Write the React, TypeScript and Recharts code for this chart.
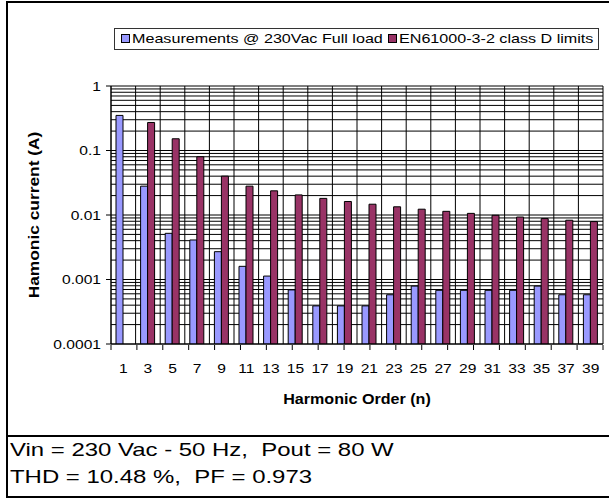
import React from "react";
import { BarChart, Bar, XAxis, YAxis, CartesianGrid, ReferenceLine, Label } from "recharts";

const FONT = "'Liberation Sans', Arial, Helvetica, sans-serif";

// harmonic orders on the x axis
const orders = ["1", "3", "5", "7", "9", "11", "13", "15", "17", "19", "21", "23", "25", "27", "29", "31", "33", "35", "37", "39"];

// measured harmonic current (A)
const measured = [0.35, 0.028, 0.0052, 0.0041, 0.0027, 0.0016, 0.00113, 0.00069, 0.00039, 0.00039, 0.00039, 0.00058, 0.00079, 0.00068, 0.00068, 0.00068, 0.00068, 0.00079, 0.00058, 0.00058];

// class D limits (A), none for the fundamental
const limits = [null, 0.272, 0.152, 0.08, 0.04, 0.028, 0.0237, 0.0205, 0.0181, 0.0162, 0.0147, 0.0134, 0.0123, 0.0114, 0.0106, 0.0099, 0.0093, 0.0088, 0.0083, 0.0079];

const seriesNames = ["Measurements @ 230Vac Full load", "EN61000-3-2 class D limits"];
const seriesColors = ["#9999FF", "#993366"];

const yTicks = [0.0001, 0.001, 0.01, 0.1, 1];
const footer = ["Vin = 230 Vac - 50 Hz,  Pout = 80 W", "THD = 10.48 %,  PF = 0.973"];

// log grid: 1..9 per decade
const gridValues = yTicks
  .slice(0, -1)
  .flatMap((d) => [1, 2, 3, 4, 5, 6, 7, 8, 9].map((m) => Number((d * m).toPrecision(2))))
  .concat([1]);
const bounds = orders.map((_, i) => i).concat([orders.length]);

const data = orders.map((n, i) => ({ n, measured: measured[i], limit: limits[i] }));

// vertical grid lines sit on category boundaries
const boundaryLines = ({ offset }: any) => bounds.map((i) => offset.left + (offset.width * i) / orders.length);

const NoTick = () => <g />;

const YTick = (props: any) => {
  const { x, y, payload } = props;
  return (
    <g transform={`translate(${x},${y}) scale(1.2,1)`}>
      <text x={0} y={0} dy={4.6} textAnchor="end" fontSize={13} fontFamily={FONT} fill="#000">
        {String(payload.value)}
      </text>
    </g>
  );
};

const XTick = (props: any) => {
  const { x, y, payload } = props;
  return (
    <g transform={`translate(${x},${y}) scale(1.2,1)`}>
      <text x={0} y={0} dy={28.6} textAnchor="middle" fontSize={13} fontFamily={FONT} fill="#000">
        {payload.value}
      </text>
    </g>
  );
};

const YTitle = (props: any) => {
  const { viewBox } = props;
  const cy = viewBox.y + viewBox.height / 2;
  return (
    <g transform={`translate(34,${cy}) rotate(-90) scale(1.24,1)`}>
      <text x={0} y={0} dy={5} textAnchor="middle" fontSize={14} fontWeight="bold" fontFamily={FONT} fill="#000">
        Hamonic current (A)
      </text>
    </g>
  );
};

const XTitle = (props: any) => {
  const { viewBox } = props;
  const cx = viewBox.x + viewBox.width / 2;
  return (
    <g transform={`translate(${cx},${viewBox.y + 60}) scale(1.15,1)`}>
      <text x={0} y={0} textAnchor="middle" fontSize={14} fontWeight="bold" fontFamily={FONT} fill="#000">
        Harmonic Order (n)
      </text>
    </g>
  );
};

const legendPos = [
  { sq: 121, txt: 132 },
  { sq: 388, txt: 399 },
];

export default function App() {
  return (
    <div style={{ position: "absolute", left: 0, top: 0, width: 609, height: 499, background: "#fff", overflow: "hidden", fontFamily: FONT }}>
      <div style={{ position: "absolute", left: 0, top: 0 }}>
        <BarChart width={609} height={436} data={data} margin={{ top: 86, right: 6, bottom: 90, left: 0 }} barGap={0}>
          <CartesianGrid stroke="#000" horizontalValues={gridValues} verticalCoordinatesGenerator={boundaryLines} />
          <XAxis dataKey="n" interval={0} height={1} tickLine={false} tickSize={0} tickMargin={0} axisLine={{ stroke: "#000" }} tick={<XTick />}>
            <Label content={<XTitle />} />
          </XAxis>
          <XAxis
            xAxisId="g"
            type="number"
            domain={[0, orders.length]}
            ticks={bounds}
            interval={0}
            allowDataOverflow
            height={1}
            tick={<NoTick />}
            axisLine={false}
            tickSize={5}
            tickLine={{ stroke: "#000" }}
          />
          <YAxis
            type="number"
            scale="log"
            domain={[0.0001, 1]}
            ticks={yTicks}
            interval={0}
            allowDataOverflow
            width={111}
            tickSize={5}
            tickMargin={5}
            axisLine={{ stroke: "#000" }}
            tickLine={{ stroke: "#000" }}
            tick={<YTick />}
          >
            <Label content={<YTitle />} />
          </YAxis>
          <ReferenceLine xAxisId="g" x={orders.length} stroke="#808080" strokeWidth={2} />
          <Bar dataKey="measured" name={seriesNames[0]} fill={seriesColors[0]} stroke="#000" strokeWidth={1} barSize={7} isAnimationActive={false} />
          <Bar dataKey="limit" name={seriesNames[1]} fill={seriesColors[1]} stroke="#000" strokeWidth={1} barSize={7} isAnimationActive={false} />
        </BarChart>
      </div>

      {/* legend box */}
      <div style={{ position: "absolute", left: 114, top: 28, width: 485, height: 22, border: "1px solid #333", boxSizing: "border-box" }} />
      {seriesNames.map((name, i) => (
        <React.Fragment key={name}>
          <div
            style={{
              position: "absolute",
              left: legendPos[i].sq,
              top: 34,
              width: 9,
              height: 9,
              background: seriesColors[i],
              border: "1px solid #000",
              boxSizing: "border-box",
            }}
          />
          <div
            style={{
              position: "absolute",
              left: legendPos[i].txt,
              top: 31,
              fontSize: 13,
              lineHeight: "16px",
              whiteSpace: "pre",
              transform: "scaleX(1.24)",
              transformOrigin: "left top",
              color: "#000",
            }}
          >
            {name}
          </div>
        </React.Fragment>
      ))}

      {/* outer frame and divider */}
      <div style={{ position: "absolute", left: 6, top: 1, width: 640, height: 497, border: "2px solid #000", boxSizing: "border-box" }} />
      <div style={{ position: "absolute", left: 6, top: 435, width: 640, height: 2, background: "#000" }} />

      {footer.map((line, i) => (
        <div
          key={line}
          style={{
            position: "absolute",
            left: 10,
            top: 440 + i * 27,
            fontSize: 19,
            lineHeight: "20px",
            whiteSpace: "pre",
            transform: "scaleX(1.26)",
            transformOrigin: "left top",
            color: "#000",
          }}
        >
          {line}
        </div>
      ))}
    </div>
  );
}
